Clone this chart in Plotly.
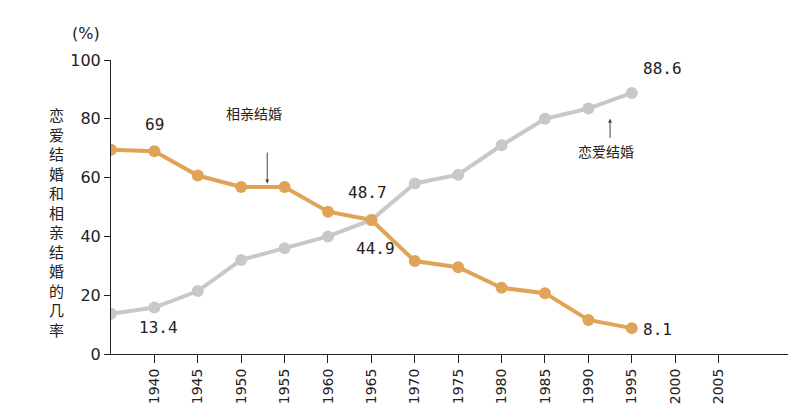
import plotly.graph_objects as go

years = [1935, 1940, 1945, 1950, 1955, 1960, 1965, 1970, 1975, 1980, 1985, 1990, 1995]
xiangqin = [69.5, 69, 60.7, 56.8, 56.8, 48.4, 45.6, 31.6, 29.5, 22.5, 20.7, 11.6, 8.8]
lianai = [13.7, 15.8, 21.4, 32, 36, 40, 45.6, 58, 61, 71, 80, 83.5, 88.8]
tick_years = [1940, 1945, 1950, 1955, 1960, 1965, 1970, 1975, 1980, 1985, 1990, 1995, 2000, 2005]

num_font = dict(family="DejaVu Sans Mono", size=16, color="#222")
cjk = "Noto Sans CJK SC"

fig = go.Figure()
fig.add_trace(go.Scatter(x=years, y=lianai, mode="lines+markers",
                         line=dict(color="#c8c8c8", width=4),
                         marker=dict(color="#c8c8c8", size=12)))
fig.add_trace(go.Scatter(x=years, y=xiangqin, mode="lines+markers",
                         line=dict(color="#e0a458", width=4),
                         marker=dict(color="#e0a458", size=12)))

# value labels
for x, y, t in [(1940, 78, "69"), (1940.5, 9, "13.4"), (1964.5, 55, "48.7"),
                (1965.5, 36, "44.9"), (1998, 8.5, "8.1"), (1998.5, 97, "88.6")]:
    fig.add_annotation(x=x, y=y, text=t, showarrow=False, font=num_font)

fig.add_annotation(x=1951.5, y=82, text="相亲结婚", showarrow=False,
                   font=dict(family=cjk, size=14, color="#222"))
fig.add_annotation(x=1992, y=69, text="恋爱结婚", showarrow=False,
                   font=dict(family=cjk, size=14, color="#222"))
fig.add_annotation(x=1953, y=58, ax=1953, ay=69, axref="x", ayref="y",
                   showarrow=True, arrowhead=2, arrowsize=0.8, arrowwidth=1, arrowcolor="#444", text="")
fig.add_annotation(x=1992.5, y=80, ax=1992.5, ay=73, axref="x", ayref="y",
                   showarrow=True, arrowhead=2, arrowsize=0.8, arrowwidth=1, arrowcolor="#444", text="")

fig.add_annotation(xref="paper", yref="paper", x=-0.095, y=0.45,
                   text="<br>".join("恋爱结婚和相亲结婚的几率"), showarrow=False,
                   font=dict(family=cjk, size=15, color="#222"))
fig.add_annotation(xref="paper", yref="paper", x=-0.06, y=1.13, text="(%)",
                   showarrow=False, font=dict(family="DejaVu Sans", size=16, color="#222"))

fig.update_xaxes(range=[1935, 2013], tickvals=tick_years, tickangle=-90,
                 showgrid=False, showline=True, linecolor="#222", linewidth=1,
                 ticks="outside", ticklen=8, tickcolor="#222",
                 tickfont=dict(family="DejaVu Sans", size=14, color="#222"), zeroline=False)
fig.update_yaxes(range=[0, 100], dtick=20, showgrid=False, showline=True,
                 linecolor="#222", linewidth=1, ticks="outside", ticklen=6, tickcolor="#222",
                 tickfont=dict(family="DejaVu Sans", size=16, color="#222"), zeroline=False)

fig.update_layout(width=800, height=408, showlegend=False,
                  plot_bgcolor="white", paper_bgcolor="white",
                  margin=dict(l=103, r=20, t=52, b=60))
fig.write_html("out.html")
